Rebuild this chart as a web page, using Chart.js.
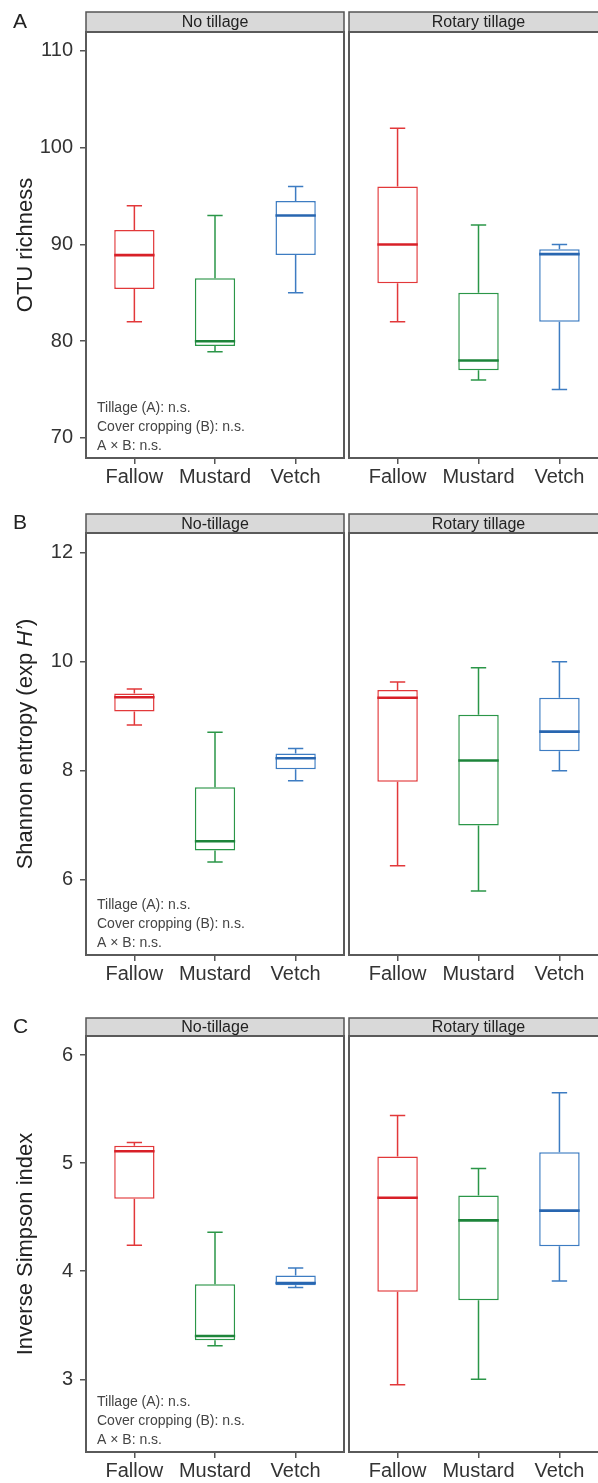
<!DOCTYPE html>
<html>
<head>
<meta charset="utf-8">
<script src="https://cdn.jsdelivr.net/npm/chart.js@4.4.1/dist/chart.umd.min.js"></script>
<style>
  html, body { margin: 0; padding: 0; background: #fff; }
  body { width: 598px; height: 1483px; position: relative; overflow: hidden; }
  canvas { position: absolute; }
</style>
</head>
<body>
<script>
// Treatments along the x axis of every facet
const treatments = ['Fallow', 'Mustard', 'Vetch'];
const treatmentPositions = [1, 2, 3];

// Box statistics per treatment: [lower whisker, Q1, median, Q3, upper whisker]
const otuNoTillage = [
  [82.0, 85.4, 88.9, 91.5, 94.0],
  [78.9, 79.5, 80.0, 86.5, 93.0],
  [85.0, 88.9, 93.0, 94.5, 96.0]
];
const otuRotary = [
  [82.0, 86.0, 90.0, 96.0, 102.0],
  [76.0, 77.0, 78.0, 85.0, 92.0],
  [75.0, 82.0, 89.0, 89.5, 90.0]
];
const shannonNoTillage = [
  [8.84, 9.09, 9.35, 9.42, 9.50],
  [6.33, 6.54, 6.71, 7.70, 8.71],
  [7.82, 8.03, 8.23, 8.32, 8.41]
];
const shannonRotary = [
  [6.26, 7.80, 9.34, 9.48, 9.63],
  [5.80, 7.00, 8.19, 9.03, 9.89],
  [8.00, 8.36, 8.72, 9.34, 10.00]
];
const simpsonNoTillage = [
  [4.24, 4.67, 5.11, 5.16, 5.19],
  [3.31, 3.36, 3.40, 3.88, 4.36],
  [3.85, 3.87, 3.89, 3.96, 4.03]
];
const simpsonRotary = [
  [2.95, 3.81, 4.68, 5.06, 5.44],
  [3.00, 3.73, 4.47, 4.70, 4.95],
  [3.91, 4.23, 4.56, 5.10, 5.65]
];

// y-axis ticks
const otuTicks = [70, 80, 90, 100, 110];
const shannonTicks = [6, 8, 10, 12];
const simpsonTicks = [3, 4, 5, 6];

const statsLines = ['Tillage (A): n.s.', 'Cover cropping (B): n.s.', 'A \u00d7 B: n.s.'];

const boxColors = ['#e2383a', '#2b9648', '#3d7cc2'];
const medianColors = ['#d82028', '#1d843a', '#2866b0'];
const FONT = '"Liberation Sans", Arial, Helvetica, sans-serif';

Chart.defaults.font.family = FONT;
Chart.defaults.color = '#333';

// panel layout (page pixels)
const panels = [
  { letter: 'A', title: [['OTU richness', false]], strips: ['No tillage', 'Rotary tillage'],
    data: [otuNoTillage, otuRotary], ticks: otuTicks, yMin: 67.93, yMax: 111.96,
    stripTop: 12, plotTop: 32, plotBottom: 458 },
  { letter: 'B', title: [['Shannon entropy (exp ', false], ['H\u2019', true], [')', false]],
    strips: ['No-tillage', 'Rotary tillage'],
    data: [shannonNoTillage, shannonRotary], ticks: shannonTicks, yMin: 4.625, yMax: 12.36,
    stripTop: 514, plotTop: 533, plotBottom: 955 },
  { letter: 'C', title: [['Inverse Simpson index', false]], strips: ['No-tillage', 'Rotary tillage'],
    data: [simpsonNoTillage, simpsonRotary], ticks: simpsonTicks, yMin: 2.327, yMax: 6.176,
    stripTop: 1018, plotTop: 1036, plotBottom: 1452 }
];

// whiskers under the boxes, medians on top of them
const boxWhiskers = {
  id: 'boxWhiskers',
  beforeDatasetsDraw(chart, args, opts) {
    const { ctx, scales: { x, y } } = chart;
    ctx.save();
    ctx.lineWidth = 1.5;
    opts.stats.forEach((s, i) => {
      const pos = treatmentPositions[i];
      const cx = x.getPixelForValue(pos);
      const capL = x.getPixelForValue(pos - 0.095);
      const capR = x.getPixelForValue(pos + 0.095);
      ctx.strokeStyle = boxColors[i];
      ctx.beginPath();
      ctx.moveTo(cx, y.getPixelForValue(s[0]));
      ctx.lineTo(cx, y.getPixelForValue(s[1]));
      ctx.moveTo(cx, y.getPixelForValue(s[3]));
      ctx.lineTo(cx, y.getPixelForValue(s[4]));
      ctx.moveTo(capL, y.getPixelForValue(s[0]));
      ctx.lineTo(capR, y.getPixelForValue(s[0]));
      ctx.moveTo(capL, y.getPixelForValue(s[4]));
      ctx.lineTo(capR, y.getPixelForValue(s[4]));
      ctx.stroke();
    });
    ctx.restore();
  },
  afterDatasetsDraw(chart, args, opts) {
    const { ctx, scales: { x, y } } = chart;
    ctx.save();
    ctx.lineWidth = 2.6;
    opts.stats.forEach((s, i) => {
      const pos = treatmentPositions[i];
      const my = y.getPixelForValue(s[2]);
      ctx.strokeStyle = medianColors[i];
      ctx.beginPath();
      ctx.moveTo(x.getPixelForValue(pos - 0.25), my);
      ctx.lineTo(x.getPixelForValue(pos + 0.25), my);
      ctx.stroke();
    });
    ctx.restore();
  }
};

// strip header, panel frame, test notes, panel letter and y title
const facetDecor = {
  id: 'facetDecor',
  afterDraw(chart, args, opts) {
    const { ctx, chartArea: a } = chart;
    const w = a.right - a.left;
    const stripY = a.top - opts.stripHeight;
    ctx.save();
    ctx.fillStyle = '#d9d9d9';
    ctx.fillRect(a.left, stripY, w, opts.stripHeight);
    ctx.strokeStyle = '#555';
    ctx.lineWidth = 1.5;
    ctx.strokeRect(a.left, stripY, w, opts.stripHeight);
    ctx.fillStyle = '#222';
    ctx.font = '16px ' + FONT;
    ctx.textAlign = 'center';
    ctx.textBaseline = 'middle';
    ctx.fillText(opts.strip, (a.left + a.right) / 2, stripY + opts.stripHeight / 2 + 1);

    ctx.strokeStyle = '#5a5a5a';
    ctx.lineWidth = 2;
    ctx.strokeRect(a.left, a.top, w, a.bottom - a.top);

    if (opts.notes) {
      ctx.fillStyle = '#444';
      ctx.font = '14px ' + FONT;
      ctx.textAlign = 'left';
      [50, 31, 12].forEach((off, k) => ctx.fillText(opts.notes[k], a.left + 11, a.bottom - off));
    }
    if (opts.letter) {
      ctx.fillStyle = '#222';
      ctx.font = '21px ' + FONT;
      ctx.textAlign = 'left';
      ctx.fillText(opts.letter, 13, stripY + opts.stripHeight / 2);
    }
    if (opts.title) {
      ctx.fillStyle = '#222';
      ctx.textAlign = 'left';
      ctx.textBaseline = 'alphabetic';
      ctx.translate(32, (a.top + a.bottom) / 2);
      ctx.rotate(-Math.PI / 2);
      const fontFor = it => (it ? 'italic ' : '') + '22px ' + FONT;
      let total = 0;
      opts.title.forEach(([t, it]) => { ctx.font = fontFor(it); total += ctx.measureText(t).width; });
      let cx = -total / 2;
      opts.title.forEach(([t, it]) => {
        ctx.font = fontFor(it);
        ctx.fillText(t, cx, 0);
        cx += ctx.measureText(t).width;
      });
    }
    ctx.restore();
  }
};

function addFacet(panel, side) {
  const isLeft = side === 0;
  const top = panel.stripTop - 3;
  const left = isLeft ? 0 : 345;
  const width = isLeft ? 347 : 266;
  const height = Math.min(panel.plotBottom + 32, 1483) - top;
  const stats = panel.data[side];

  const canvas = document.createElement('canvas');
  canvas.width = width;
  canvas.height = height;
  canvas.style.left = left + 'px';
  canvas.style.top = top + 'px';
  canvas.style.width = width + 'px';
  canvas.style.height = height + 'px';
  document.body.appendChild(canvas);

  const yScale = {
    type: 'linear',
    display: isLeft,
    min: panel.yMin,
    max: panel.yMax,
    afterBuildTicks: s => { s.ticks = panel.ticks.map(v => ({ value: v })); },
    ticks: { font: { size: 20 }, color: '#333', padding: 7 },
    grid: { drawOnChartArea: false, drawTicks: true, tickLength: 6, color: '#555', lineWidth: 1.5 },
    border: { display: false }
  };
  if (isLeft) yScale.afterFit = s => { s.width = 86; };

  new Chart(canvas, {
    type: 'bar',
    data: {
      datasets: [{
        data: stats.map((s, i) => ({ x: treatmentPositions[i], y: [s[1], s[3]] })),
        backgroundColor: '#fff',
        borderColor: boxColors,
        borderWidth: 1.5,
        borderSkipped: false,
        barPercentage: 0.5,
        categoryPercentage: 1
      }]
    },
    options: {
      responsive: false,
      animation: false,
      devicePixelRatio: 1,
      layout: { padding: { top: panel.plotTop - top, left: isLeft ? 0 : 4, right: 3, bottom: 0 } },
      plugins: {
        legend: { display: false },
        tooltip: { enabled: false },
        boxWhiskers: { stats },
        facetDecor: {
          strip: panel.strips[side],
          stripHeight: panel.plotTop - panel.stripTop,
          notes: isLeft ? statsLines : null,
          letter: isLeft ? panel.letter : null,
          title: isLeft ? panel.title : null
        }
      },
      scales: {
        x: {
          type: 'linear',
          min: 0.4,
          max: 3.6,
          offset: false,
          afterBuildTicks: s => { s.ticks = treatmentPositions.map(v => ({ value: v })); },
          afterFit: s => { s.height = height - (panel.plotBottom - top); },
          ticks: {
            font: { size: 20 },
            color: '#333',
            padding: 1,
            callback: v => treatments[Math.round(v) - 1] || ''
          },
          grid: { drawOnChartArea: false, drawTicks: true, tickLength: 6, color: '#555', lineWidth: 1.5, offset: false },
          border: { display: false }
        },
        y: yScale
      }
    },
    plugins: [boxWhiskers, facetDecor]
  });
}

panels.forEach(p => { addFacet(p, 0); addFacet(p, 1); });
</script>
</body>
</html>
